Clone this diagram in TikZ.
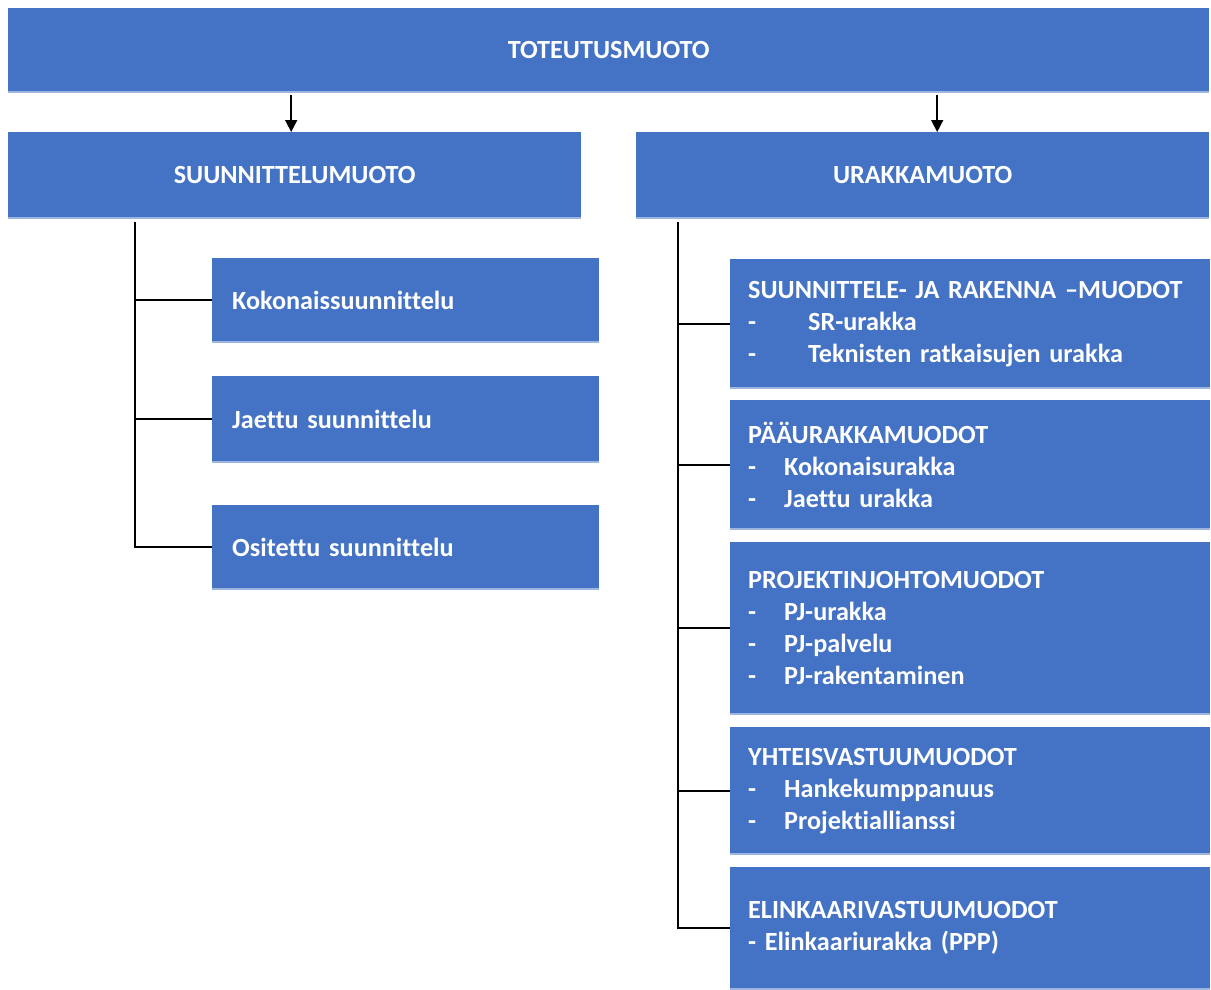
\documentclass[tikz,border=0pt]{standalone}
\usepackage{fontspec}
\setmainfont{Carlito}[Ligatures=NoCommon]
\usetikzlibrary{arrows.meta}
\definecolor{boxblue}{HTML}{4472C4}
\definecolor{edgeblue}{HTML}{9DB6E0}
\newcommand{\itm}[1]{\makebox[#1][l]{-}}
\newcommand{\boxfont}{\fontsize{26.2}{32}\selectfont\bfseries\spaceskip=0.17em plus 0.05em\relax}
\begin{document}
\begin{tikzpicture}[x=1pt,y=-1pt,
  box/.style={fill=boxblue, text=white, anchor=north west, inner sep=0pt,
    font=\boxfont,
    path picture={\draw[edgeblue, line width=3pt]
      (path picture bounding box.south west) -- (path picture bounding box.south east);}},
  headbox/.style={box, align=center},
  leafL/.style={box, align=left, text width=347pt, inner xsep=20pt, minimum height=#1},
  leafR/.style={box, align=left, text width=444pt, inner xsep=18pt, minimum height=#1},
  link/.style={line width=1.6pt, black},
  arrow/.style={link, -{Triangle[width=12pt,length=12pt]}}]
\useasboundingbox (0,0) rectangle (1211,990);

% top level
\node[headbox, minimum width=1201pt, minimum height=84pt] (top) at (8,8) {TOTEUTUSMUOTO};
\node[headbox, minimum width=573pt, minimum height=86pt] (suun) at (8,132) {SUUNNITTELUMUOTO};
\node[headbox, minimum width=573pt, minimum height=86pt] (urak) at (636,132) {URAKKAMUOTO};

% design forms
\node[leafL=84pt] (koko) at (212,258) {Kokonaissuunnittelu};
\node[leafL=86pt] (jaet) at (212,376) {Jaettu suunnittelu};
\node[leafL=84pt] (osit) at (212,505) {Ositettu suunnittelu};

% contract forms
\node[leafR=129pt] (sr) at (730,259) {SUUNNITTELE- JA RAKENNA –MUODOT\\\itm{60pt}SR-urakka\\\itm{60pt}Teknisten ratkaisujen urakka};
\node[leafR=129pt] (paa) at (730,400) {PÄÄURAKKAMUODOT\\\itm{36pt}Kokonaisurakka\\\itm{36pt}Jaettu urakka};
\node[leafR=172pt] (pj) at (730,542) {PROJEKTINJOHTOMUODOT\\\itm{36pt}PJ-urakka\\\itm{36pt}PJ-palvelu\\\itm{36pt}PJ-rakentaminen};
\node[leafR=127pt] (yht) at (730,727) {YHTEISVASTUUMUODOT\\\itm{36pt}Hankekumppanuus\\\itm{36pt}Projektiallianssi};
\node[leafR=122pt] (eli) at (730,867) {ELINKAARIVASTUUMUODOT\\- Elinkaariurakka (PPP)};

% arrows from the top box
\draw[arrow] ([xshift=-3.5pt,yshift=-3pt]suun.north |- top.south) -- ([xshift=-3.5pt]suun.north);
\draw[arrow] ([xshift=14.5pt,yshift=-3pt]urak.north |- top.south) -- ([xshift=14.5pt]urak.north);

% left tree
\coordinate (lt) at (135,222);
\draw[link] (lt) -- (lt |- osit.west) -- (osit.west);
\draw[link] (lt |- koko.west) -- (koko.west);
\draw[link] (lt |- jaet.west) -- (jaet.west);

% right tree
\coordinate (rt) at (678,222);
\draw[link] (rt) -- (rt |- eli.west) -- (eli.west);
\foreach \n in {sr,paa,pj,yht} \draw[link] (rt |- \n.west) -- (\n.west);
\end{tikzpicture}
\end{document}
